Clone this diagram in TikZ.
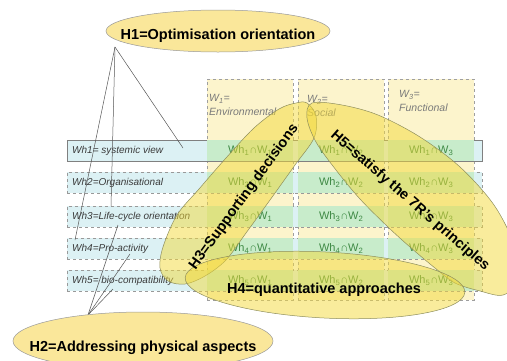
\documentclass[tikz,border=0pt]{standalone}
\usepackage{fontspec}
\setmainfont{Liberation Sans}
\usetikzlibrary{shapes.geometric}

\definecolor{colfill}{HTML}{FCF4CC}
\definecolor{rowfill}{HTML}{DCF1F4}
\definecolor{cellfill}{HTML}{C8ECCB}
\definecolor{hypfill}{HTML}{F3DA3A}
\definecolor{hypedge}{HTML}{8E8E5C}
\definecolor{bubblefill}{HTML}{FAE79A}
\definecolor{celltext}{HTML}{3F8A45}
\definecolor{labeltext}{HTML}{3A3A3A}
\definecolor{headtext}{HTML}{7A7A7A}
\definecolor{linkcol}{HTML}{555555}

\tikzset{
  colbox/.style={draw=gray!75, dashed, fill=colfill, minimum width=86, minimum height=221,
                 inner sep=0, anchor=north west},
  rowbox/.style={draw=gray!80, dashed, fill=rowfill, minimum width=415, minimum height=21,
                 inner sep=0, anchor=north west},
  cellbox/.style={fill=cellfill, minimum width=86, minimum height=21, inner sep=0,
                  anchor=north west, text=celltext, font=\fontsize{11}{12}\selectfont},
  rowlabel/.style={anchor=west, inner sep=0, text=labeltext, font=\fontsize{10}{12}\selectfont\itshape},
  headlabel/.style={anchor=west, inner sep=0, align=left, text=headtext,
                    font=\fontsize{10.5}{14}\selectfont\itshape},
  hyp/.style={ellipse, draw=hypedge, line width=0.5pt, fill=hypfill, fill opacity=0.5, inner sep=0},
  hypshape/.style={draw=hypedge, line width=0.5pt, fill=hypfill, fill opacity=0.5},
  bubble/.style={ellipse, draw=gray!80, line width=0.5pt, fill=bubblefill, inner sep=0},
  hyptext/.style={inner sep=0, font=\fontsize{14.5}{16}\selectfont\bfseries},
  link/.style={draw=linkcol, line width=0.5pt},
}

\newcommand{\cellname}[2]{Wh\textsubscript{#1}∩W\textsubscript{#2}}

\begin{document}
\begin{tikzpicture}[x=1pt,y=-1pt]
\useasboundingbox (0,0) rectangle (507,360);

% dimension columns
\node[colbox] (w1) at (207,79) {};
\node[colbox] (w2) at (298,79) {};
\node[colbox] (w3) at (388,79) {};
\node[headlabel] (w1head) at (209,105) {W\textsubscript{1}=\\Environmental};
\node[headlabel] (w2head) at (307,106) {W\textsubscript{2}=\\Social};
\node[headlabel] (w3head) at (399,101) {W\textsubscript{3}=\\Functional};

% requirement rows
\node[rowbox, solid, draw=gray] (wh1) at (67,140) {};
\node[rowbox] (wh2) at (67,172) {};
\node[rowbox] (wh3) at (67,206) {};
\node[rowbox] (wh4) at (67,238) {};
\node[rowbox] (wh5) at (67,270) {};
\node[rowlabel] (l1) at (72,150.5) {Wh1= systemic view};
\node[rowlabel] (l2) at (72,182.5) {Wh2=Organisational};
\node[rowlabel] (l3) at (72,216.5) {Wh3=Life-cycle orientation};
\node[rowlabel] (l4) at (72,248.5) {Wh4=Pro-activity};
\node[rowlabel] (l5) at (72,280.5) {Wh5= bio-compatibility};

% intersection cells
\foreach \r/\y in {1/140,2/172,3/206,4/238,5/270}{
  \foreach \c/\x in {1/207,2/298,3/388}{
    \node[cellbox] (c\r\c) at (\x,\y) {\cellname{\r}{\c}};
  }
}

% links of H1 and H2 to the rows
\coordinate (h1tip) at (115,47);
\coordinate (e1) at (183,148);
\coordinate (e2) at (111,206);
\coordinate (e3) at (75,240);
\coordinate (h2tip) at (88,315);
\coordinate (f1) at (118,225);
\coordinate (f2) at (130,254);
\coordinate (f3) at (113,289);
\draw[link] (h1tip) -- (e1);
\draw[link] (h1tip) -- (e2);
\draw[link] (h1tip) -- (e3);
\draw[link] (h2tip) -- (f1);
\draw[link] (h2tip) -- (f2);
\draw[link] (h2tip) -- (f3);

% hypotheses spanning the grid
% H3: rising band over W1
\draw[hypshape] plot[smooth cycle, tension=0.55] coordinates {
  (307,103) (316,116) (314,138) (295,165) (270,200) (246,233) (226,260)
  (205,276) (185,284) (168,281) (160,268) (163,247) (177,215) (199,189)
  (226,158) (254,128) (279,109) (296,103)};
% H5: falling band over W2 and W3
\draw[hypshape] plot[smooth cycle, tension=0.55] coordinates {
  (312,103) (342,105) (378,115) (420,137) (460,167) (494,205) (514,245)
  (518,280) (503,295) (480,291) (455,283) (435,268) (410,247) (388,227)
  (360,199) (336,170) (316,142) (307,118)};
% H4: flat band along the lower rows
\node[hyp, minimum width=280, minimum height=66, rotate=-3] (h4) at (325,285) {};
\node[hyptext, rotate=54] (h3t) at (244,197) {H3=Supporting decisions};
\node[hyptext, rotate=-41] (h5t) at (410,201) {H5=satisfy the 7R's principles};
\node[hyptext] (h4t) at (324,290) {H4=quantitative approaches};

% hypotheses outside the grid
\node[bubble, minimum width=224, minimum height=42] (h1) at (218,31) {};
\node[hyptext] (h1t) at (218,36) {H1=Optimisation orientation};
\node[bubble, minimum width=260, minimum height=58] (h2) at (143,341) {};
\node[hyptext] (h2t) at (143,348) {H2=Addressing physical aspects};
\end{tikzpicture}
\end{document}
